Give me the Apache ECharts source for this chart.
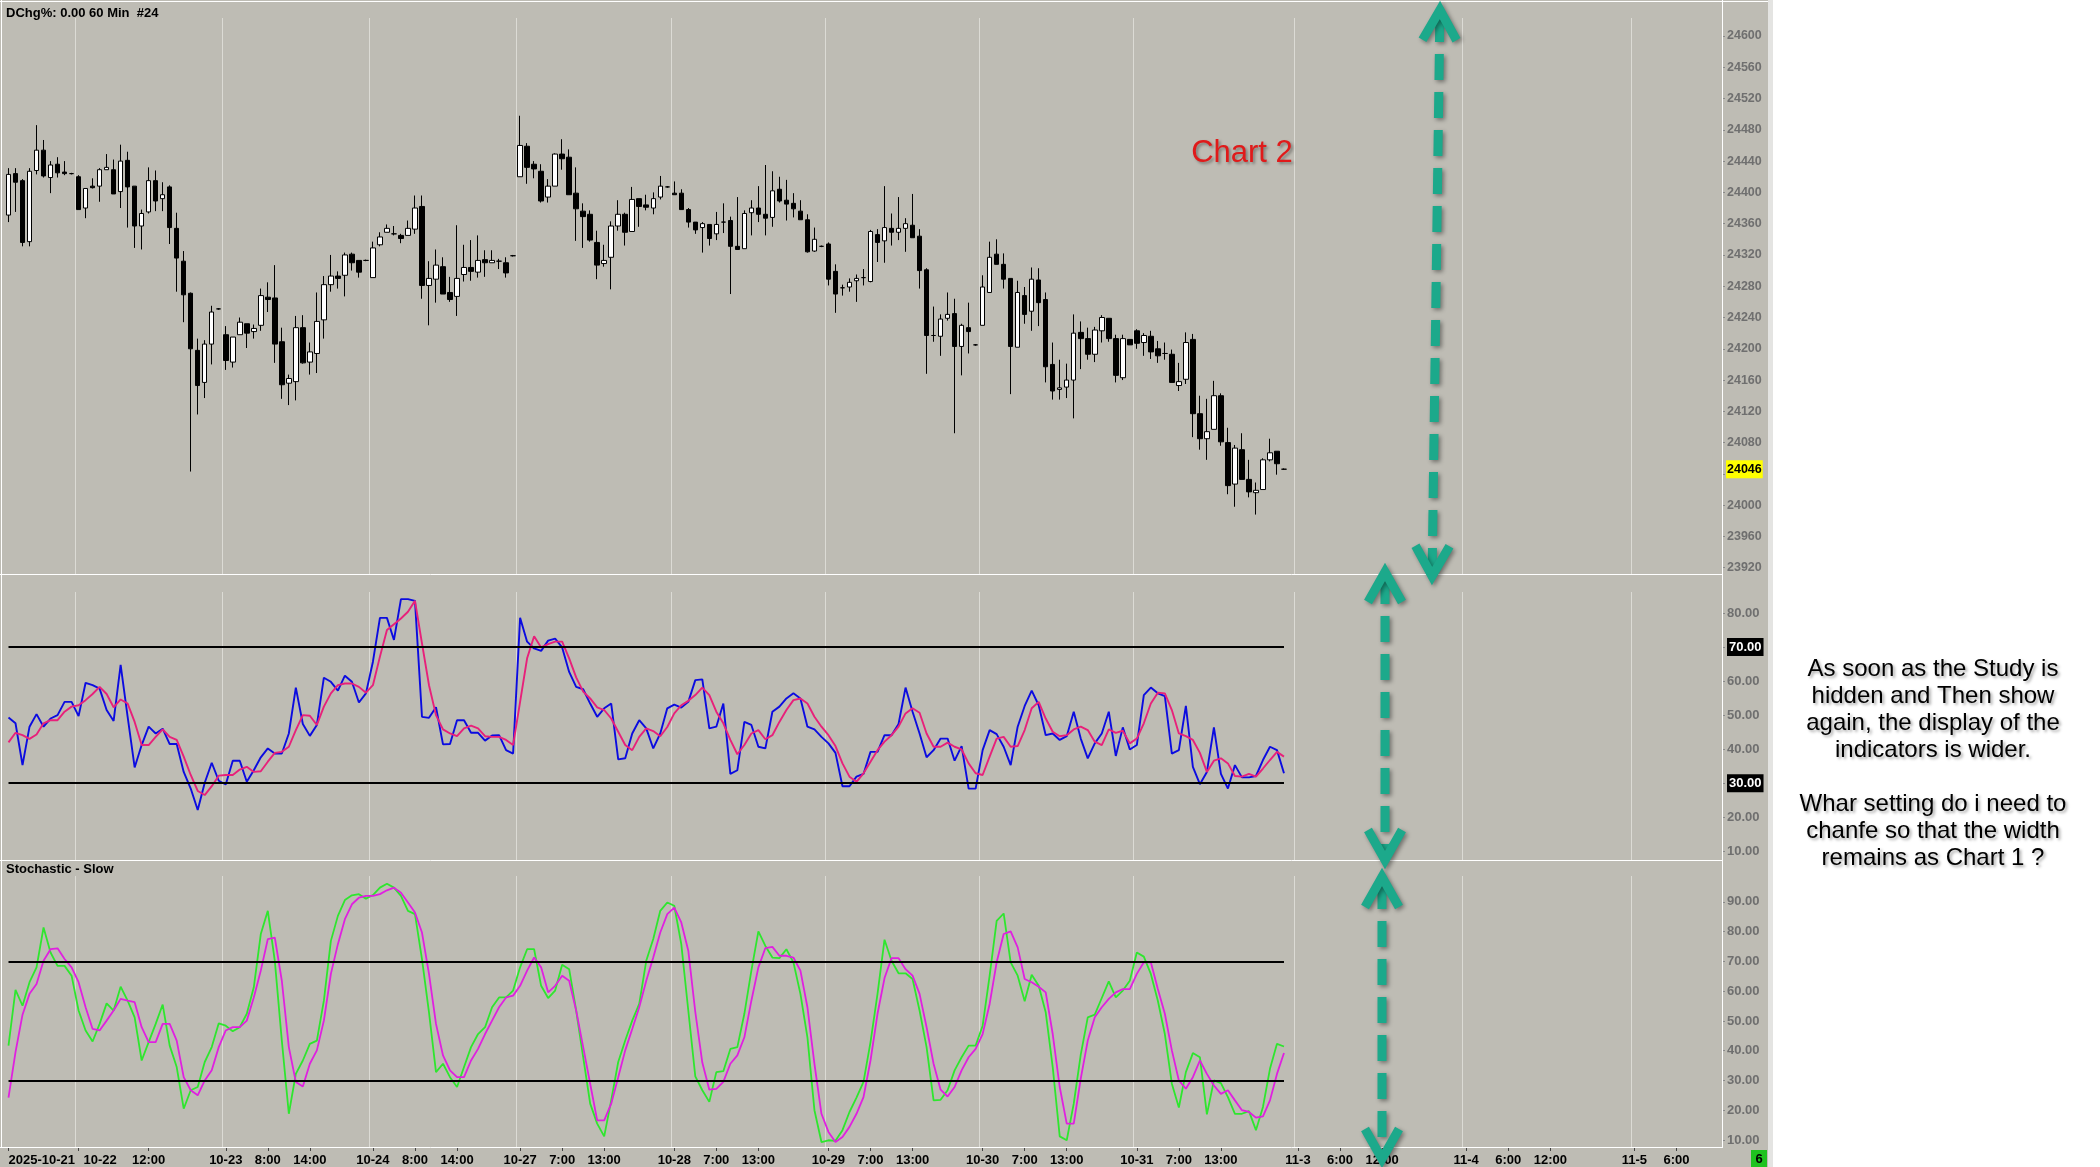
<!DOCTYPE html>
<html>
<head>
<meta charset="utf-8">
<title>Chart 2</title>
<script src="https://cdn.jsdelivr.net/npm/echarts@6/dist/echarts.min.js"></script>
<style>
  html, body { margin: 0; padding: 0; background: #fff; }
  #chart { width: 2100px; height: 1167px; }
</style>
</head>
<body>
<div id="chart"></div>
<script>
// sessions: [day, first hour, last hour] -- hourly slots on the time axis
const sessions = [
  ['10-21', 13, 22], ['10-22', 2, 22], ['10-23', 2, 22], ['10-24', 2, 22],
  ['10-27', 1, 22], ['10-28', 1, 22], ['10-29', 1, 22], ['10-30', 1, 22], ['10-31', 1, 23],
  ['11-3', 0, 23], ['11-4', 0, 23], ['11-5', 0, 12]
]
// hour labels shown under each day
const labelHours = {
  '10-22': [12], '10-23': [8, 14], '10-24': [8, 14],
  '10-27': [7, 13], '10-28': [7, 13], '10-29': [7, 13], '10-30': [7, 13], '10-31': [7, 13],
  '11-3': [6, 12], '11-4': [6, 12], '11-5': [6]
}

const opens = [
  24371, 24424, 24415, 24337, 24428, 24454, 24419, 24436, 24426, 24424,
  24420, 24380, 24408, 24408, 24429, 24429, 24401, 24441, 24408, 24357,
  24375, 24415, 24392, 24407, 24354, 24312, 24271, 24198, 24157, 24206,
  24251, 24218, 24183, 24218, 24232, 24222, 24230, 24266, 24265, 24209,
  24156, 24158, 24227, 24183, 24194, 24237, 24282, 24293, 24294, 24321,
  24313, 24313, 24291, 24333, 24349, 24347, 24345, 24345, 24353, 24382,
  24281, 24289, 24305, 24272, 24267, 24295, 24304, 24298, 24314, 24310,
  24312, 24310, 24319, 24420, 24459, 24436, 24427, 24394, 24408, 24449,
  24445, 24399, 24376, 24372, 24336, 24309, 24317, 24357, 24372, 24350,
  24392, 24384, 24380, 24394, 24407, 24399, 24399, 24378, 24362, 24355,
  24359, 24347, 24362, 24364, 24331, 24328, 24374, 24380, 24372, 24368,
  24404, 24390, 24386, 24376, 24365, 24325, 24331, 24334, 24299, 24278,
  24279, 24287, 24291, 24286, 24346, 24338, 24354, 24349, 24354, 24358,
  24344, 24301, 24217, 24216, 24239, 24245, 24203, 24227, 24205, 24230,
  24272, 24321, 24308, 24290, 24202, 24268, 24248, 24288, 24263, 24180,
  24148, 24151, 24160, 24221, 24213, 24193, 24223, 24239, 24213, 24163,
  24212, 24223, 24208, 24216, 24200, 24194, 24193, 24153, 24161, 24212,
  24117, 24085, 24097, 24140, 24080, 24027, 24071, 24033, 24016, 24020,
  24058, 24069, 24046
]
const closes = [
  24423, 24413, 24336, 24427, 24454, 24421, 24435, 24425, 24424, 24424,
  24378, 24405, 24406, 24429, 24432, 24398, 24440, 24407, 24357, 24373,
  24415, 24389, 24397, 24355, 24316, 24269, 24200, 24153, 24206, 24247,
  24251, 24185, 24215, 24234, 24220, 24226, 24268, 24263, 24206, 24154,
  24162, 24227, 24182, 24196, 24235, 24282, 24293, 24290, 24320, 24310,
  24298, 24313, 24329, 24343, 24354, 24347, 24341, 24354, 24380, 24281,
  24290, 24307, 24270, 24263, 24290, 24304, 24299, 24313, 24310, 24313,
  24312, 24297, 24319, 24460, 24432, 24430, 24389, 24408, 24449, 24443,
  24397, 24379, 24369, 24339, 24307, 24313, 24357, 24372, 24349, 24391,
  24382, 24381, 24392, 24408, 24407, 24397, 24378, 24362, 24352, 24360,
  24341, 24359, 24362, 24331, 24327, 24373, 24380, 24372, 24367, 24402,
  24389, 24385, 24379, 24365, 24324, 24340, 24331, 24289, 24270, 24278,
  24285, 24290, 24291, 24350, 24336, 24355, 24349, 24354, 24360, 24342,
  24300, 24217, 24217, 24238, 24244, 24203, 24230, 24222, 24205, 24279,
  24317, 24308, 24289, 24203, 24272, 24244, 24289, 24259, 24177, 24146,
  24150, 24160, 24220, 24213, 24193, 24224, 24240, 24213, 24166, 24213,
  24205, 24207, 24217, 24196, 24191, 24194, 24157, 24158, 24208, 24117,
  24085, 24094, 24140, 24081, 24025, 24073, 24033, 24017, 24019, 24058,
  24067, 24053, 24046
]
const lows = [
  24362, 24375, 24331, 24331, 24423, 24419, 24399, 24419, 24422, 24423,
  24378, 24367, 24405, 24388, 24429, 24398, 24380, 24355, 24329, 24327,
  24373, 24376, 24376, 24334, 24273, 24234, 24043, 24116, 24137, 24180,
  24250, 24173, 24176, 24218, 24201, 24213, 24223, 24247, 24182, 24136,
  24128, 24134, 24181, 24167, 24169, 24213, 24273, 24277, 24267, 24300,
  24291, 24312, 24291, 24331, 24349, 24345, 24335, 24345, 24347, 24264,
  24230, 24259, 24270, 24260, 24242, 24286, 24287, 24291, 24292, 24310,
  24302, 24291, 24318, 24420, 24411, 24418, 24387, 24387, 24408, 24429,
  24397, 24338, 24329, 24337, 24289, 24305, 24276, 24351, 24332, 24350,
  24356, 24377, 24372, 24391, 24406, 24397, 24378, 24355, 24347, 24323,
  24332, 24339, 24348, 24270, 24327, 24328, 24345, 24362, 24345, 24356,
  24387, 24364, 24368, 24365, 24323, 24324, 24330, 24281, 24246, 24268,
  24273, 24260, 24281, 24285, 24311, 24310, 24332, 24339, 24324, 24342,
  24277, 24168, 24209, 24191, 24236, 24092, 24166, 24194, 24204, 24230,
  24272, 24308, 24277, 24142, 24202, 24232, 24223, 24229, 24157, 24135,
  24135, 24137, 24111, 24174, 24186, 24183, 24208, 24209, 24157, 24160,
  24205, 24200, 24191, 24187, 24182, 24186, 24157, 24146, 24155, 24087,
  24071, 24058, 24097, 24076, 24014, 23998, 24033, 24010, 23988, 24020,
  24056, 24039, 24045
]
const highs = [
  24431, 24431, 24417, 24431, 24486, 24467, 24440, 24445, 24440, 24425,
  24422, 24405, 24418, 24431, 24449, 24442, 24461, 24452, 24408, 24378,
  24432, 24428, 24413, 24409, 24374, 24325, 24272, 24213, 24211, 24255,
  24252, 24229, 24215, 24240, 24232, 24231, 24277, 24285, 24307, 24227,
  24167, 24242, 24243, 24208, 24272, 24293, 24320, 24299, 24323, 24323,
  24313, 24314, 24337, 24349, 24359, 24357, 24347, 24364, 24396, 24396,
  24312, 24327, 24317, 24292, 24358, 24333, 24339, 24345, 24326, 24326,
  24315, 24317, 24320, 24498, 24463, 24440, 24436, 24417, 24450, 24468,
  24455, 24432, 24386, 24377, 24351, 24333, 24363, 24390, 24374, 24407,
  24392, 24397, 24400, 24421, 24408, 24414, 24404, 24380, 24362, 24362,
  24359, 24375, 24386, 24369, 24394, 24377, 24390, 24408, 24435, 24427,
  24420, 24416, 24399, 24390, 24372, 24355, 24332, 24336, 24308, 24282,
  24290, 24295, 24302, 24352, 24353, 24408, 24373, 24394, 24367, 24398,
  24353, 24303, 24254, 24244, 24272, 24264, 24232, 24259, 24206, 24294,
  24337, 24340, 24322, 24290, 24287, 24279, 24304, 24303, 24272, 24208,
  24186, 24181, 24244, 24235, 24227, 24228, 24243, 24239, 24218, 24218,
  24212, 24225, 24220, 24223, 24210, 24208, 24199, 24182, 24221, 24219,
  24140, 24136, 24159, 24143, 24099, 24077, 24092, 24058, 24029, 24060,
  24085, 24069, 24047
]

// upper study (blue) and its average (pink)
const rsi = [
  49.3, 47.6, 35.3, 46.6, 50.3, 46.6, 49.0, 50.0, 53.9, 53.9,
  49.7, 59.5, 58.8, 57.8, 51.5, 48.3, 64.8, 49.5, 34.6, 41.2,
  46.6, 44.6, 46.0, 41.5, 41.5, 33.3, 28.4, 22.1, 30.1, 36.0,
  30.7, 29.6, 36.6, 36.6, 30.4, 33.8, 37.6, 40.2, 38.7, 38.7,
  44.6, 58.1, 47.4, 43.9, 47.1, 61.0, 59.8, 57.2, 61.6, 59.8,
  53.7, 56.4, 65.7, 78.6, 78.6, 72.1, 84.1, 84.1, 83.6, 49.5,
  49.2, 52.3, 41.4, 41.5, 48.5, 48.5, 44.8, 44.8, 42.5, 44.0,
  44.1, 39.7, 38.7, 78.6, 71.6, 69.6, 68.9, 71.9, 72.5, 69.9,
  62.7, 58.3, 57.6, 53.4, 49.5, 52.0, 53.4, 37.0, 37.3, 44.6,
  48.5, 46.1, 40.2, 44.6, 52.0, 53.1, 52.2, 53.9, 60.3, 60.5,
  46.1, 46.6, 53.4, 32.7, 33.8, 48.0, 47.1, 40.7, 40.2, 51.0,
  52.5, 54.9, 56.4, 54.9, 46.6, 45.8, 43.6, 41.7, 38.9, 29.1,
  29.1, 31.9, 32.7, 39.2, 39.2, 44.1, 44.1, 47.4, 58.1, 51.0,
  44.6, 37.6, 39.7, 43.1, 43.1, 36.6, 40.9, 28.4, 28.4, 39.7,
  45.6, 44.4, 40.7, 35.3, 46.6, 52.7, 57.2, 52.9, 44.1, 44.6,
  42.7, 43.8, 51.0, 43.1, 37.3, 41.7, 44.6, 51.0, 38.0, 46.4,
  39.9, 41.2, 55.9, 58.1, 56.4, 55.6, 38.7, 39.7, 52.7, 34.8,
  29.7, 33.3, 46.4, 32.7, 28.4, 35.3, 31.7, 31.7, 32.1, 36.8,
  40.7, 39.7, 32.9
]
const rsiAvg = [
  42.0, 44.8, 44.1, 43.0, 44.3, 47.6, 48.5, 48.5, 51.0, 52.5,
  52.9, 54.4, 56.2, 58.3, 56.2, 52.3, 54.6, 53.4, 48.0, 41.2,
  41.2, 43.6, 45.8, 43.6, 42.7, 37.8, 32.4, 27.7, 26.5, 29.1,
  32.2, 32.4, 32.4, 34.0, 34.8, 33.3, 33.5, 36.3, 38.9, 39.2,
  40.7, 45.6, 50.0, 49.8, 47.1, 52.5, 56.4, 58.8, 59.3, 59.3,
  58.3, 56.6, 58.8, 67.2, 75.0, 76.7, 78.4, 80.4, 83.6, 71.1,
  58.8, 50.0, 45.8, 44.6, 43.8, 46.1, 46.9, 46.1, 43.8, 43.6,
  43.6, 42.7, 41.2, 53.9, 66.7, 73.2, 69.9, 70.9, 71.6, 71.6,
  66.7, 61.1, 56.9, 54.9, 52.3, 51.5, 49.0, 45.1, 41.2, 39.7,
  43.6, 46.1, 45.3, 43.8, 46.5, 50.5, 52.9, 54.2, 55.9, 58.1,
  55.9, 51.0, 47.6, 42.7, 38.5, 41.2, 44.6, 45.6, 42.9, 44.1,
  48.0, 51.5, 54.4, 54.9, 53.4, 49.5, 46.6, 44.1, 40.9, 35.8,
  31.9, 30.4, 32.9, 36.3, 39.7, 42.2, 44.1, 46.6, 50.5, 52.0,
  50.7, 44.6, 40.7, 40.7, 41.9, 40.7, 39.9, 35.8, 32.9, 32.4,
  37.8, 43.1, 43.6, 40.7, 40.9, 45.6, 52.0, 53.9, 49.0, 45.1,
  43.8, 44.1, 45.8, 46.6, 45.6, 42.2, 41.2, 45.8, 44.8, 45.4,
  41.7, 43.1, 47.6, 53.4, 56.6, 56.4, 51.5, 44.6, 43.8, 42.7,
  38.9, 33.3, 36.6, 37.3, 35.8, 32.1, 31.9, 32.7, 31.9, 34.3,
  36.8, 39.2, 37.8
]
const stochK = [
  41.7, 60.4, 55.1, 63.0, 68.0, 81.4, 73.0, 68.5, 68.5, 65.2,
  53.5, 46.8, 43.1, 49.0, 55.9, 53.5, 61.5, 56.8, 51.2, 36.7,
  42.9, 49.0, 55.5, 41.7, 34.5, 20.5, 26.7, 27.8, 36.2, 41.2,
  49.2, 48.4, 46.5, 47.9, 52.4, 61.3, 79.2, 87.0, 70.2, 43.4,
  18.8, 32.2, 36.7, 42.3, 43.4, 56.8, 76.9, 85.3, 90.6, 92.2,
  92.6, 91.1, 92.3, 94.8, 96.1, 94.8, 92.0, 87.0, 85.9, 70.8,
  52.9, 32.8, 35.6, 31.1, 27.8, 34.5, 41.2, 45.6, 47.9, 54.6,
  57.9, 57.9, 60.2, 68.0, 74.1, 74.1, 61.8, 57.7, 60.2, 68.9,
  67.4, 53.5, 37.8, 22.2, 15.5, 11.2, 23.3, 36.2, 43.4, 50.1,
  55.7, 70.2, 77.5, 87.0, 89.8, 88.7, 75.8, 53.5, 31.4, 26.7,
  22.8, 32.8, 33.1, 40.6, 41.2, 52.4, 66.9, 80.1, 75.2, 71.3,
  71.1, 74.1, 69.7, 59.1, 44.5, 20.0, 9.3, 9.9, 9.7, 13.3,
  19.4, 24.2, 29.5, 42.9, 59.1, 77.3, 70.2, 66.0, 66.0, 64.1,
  53.5, 41.2, 23.3, 23.5, 26.7, 33.4, 37.8, 41.7, 41.7, 48.4,
  65.2, 83.6, 86.1, 69.7, 65.2, 56.6, 65.5, 61.8, 52.9, 34.5,
  11.2, 9.9, 22.2, 38.7, 51.2, 52.1, 57.7, 63.3, 57.9, 60.2,
  63.5, 73.0, 71.6, 65.8, 56.8, 45.6, 28.9, 20.9, 32.8, 39.2,
  37.8, 18.6, 30.0, 29.1, 24.4, 18.8, 18.8, 19.7, 13.3, 21.1,
  33.9, 42.3, 41.4
]
const stochD = [
  24.2, 39.5, 52.1, 59.1, 62.4, 70.2, 74.1, 74.4, 70.8, 68.0,
  63.0, 54.6, 47.3, 46.8, 50.1, 53.5, 57.4, 56.8, 56.3, 47.9,
  42.9, 42.9, 49.0, 49.0, 43.4, 31.1, 26.7, 25.0, 30.0, 33.4,
  41.2, 46.8, 47.9, 47.9, 50.1, 57.9, 66.9, 77.5, 78.0, 63.5,
  41.2, 29.5, 28.0, 35.6, 40.1, 50.1, 65.8, 75.8, 84.2, 89.2,
  91.4, 92.0, 92.0, 92.6, 93.9, 94.8, 93.1, 89.8, 86.4, 79.7,
  65.8, 49.0, 38.4, 33.4, 31.1, 31.1, 36.7, 40.6, 45.6, 50.1,
  54.6, 57.9, 58.5, 61.8, 66.9, 71.3, 68.0, 59.6, 61.8, 65.2,
  63.5, 53.5, 41.2, 28.9, 16.6, 16.6, 22.2, 31.1, 40.1, 47.3,
  54.6, 63.5, 71.3, 79.7, 85.9, 88.1, 83.1, 73.6, 53.0, 36.0,
  26.9, 27.2, 29.5, 35.6, 38.4, 44.5, 56.8, 68.0, 74.5, 74.9,
  71.9, 71.9, 71.3, 66.9, 54.6, 35.6, 18.8, 12.7, 9.3, 11.0,
  14.4, 18.8, 24.4, 36.7, 52.4, 64.4, 71.1, 71.1, 67.4, 65.2,
  59.1, 47.9, 35.6, 26.9, 24.6, 27.8, 33.4, 37.8, 40.6, 45.6,
  55.7, 69.7, 79.2, 80.1, 74.7, 64.1, 63.0, 61.5, 59.6, 45.6,
  27.8, 15.5, 15.5, 30.6, 43.4, 51.2, 54.6, 57.4, 59.6, 60.7,
  60.7, 65.8, 69.7, 69.7, 60.7, 52.4, 40.1, 30.0, 27.2, 31.1,
  36.7, 32.2, 28.3, 25.5, 26.7, 23.3, 20.0, 19.4, 17.5, 17.9,
  23.3, 32.2, 39.2
]

const priceTicks = [23920, 23960, 24000, 24040, 24080, 24120, 24160, 24200, 24240,
  24280, 24320, 24360, 24400, 24440, 24480, 24520, 24560, 24600]
const rsiTicks = [10, 20, 30, 40, 50, 60, 70, 80]
const stochTicks = [10, 20, 30, 40, 50, 60, 70, 80, 90]
const levels = [70, 30]

const ARIAL = '"Liberation Sans", Arial, sans-serif'
const BG = '#bebcb4'
const TEAL = '#1ca98b'

// build the hourly category axis
const cats = []
const labelText = {}
const dayStarts = new Set()
sessions.forEach(([day, h0, h1], k) => {
  for (let h = h0; h <= h1; h++) {
    const idx = cats.length
    if (h === h0) {
      dayStarts.add(idx)
      labelText[idx] = k === 0 ? '2025-' + day : day
    } else if ((labelHours[day] || []).includes(h)) {
      labelText[idx] = h + ':00'
    }
    cats.push(day + ' ' + h + ':00')
  }
})
const catData = cats.map((c, i) => {
  if (i === 0) return { value: c, textStyle: { align: 'left' } }
  if (i === 10) return { value: c, textStyle: { align: 'left', padding: [0, 0, 0, 5] } }
  return c
})
const lastBar = closes.length - 1
const candles = opens.map((o, i) => [o, closes[i], lows[i], highs[i]])

const levelLine = {
  symbol: 'none', silent: true, animation: false,
  label: { show: false },
  lineStyle: { color: '#000', width: 2, type: 'solid' },
  data: levels.map(v => [{ coord: [cats[0], v] }, { coord: [cats[lastBar], v] }])
}

const splitLine = {
  show: true,
  interval: (idx) => idx > 0 && dayStarts.has(idx),
  lineStyle: { color: '#dcdbd5', width: 1 }
}
function xAxisFor (gridIndex, withLabels) {
  return {
    type: 'category', gridIndex, data: catData, boundaryGap: true,
    axisLine: { show: false },
    axisTick: withLabels
      ? { show: true, alignWithLabel: true, length: 3, interval: (i) => i in labelText, lineStyle: { color: '#444' } }
      : { show: false },
    axisLabel: withLabels
      ? {
          show: true, interval: (i) => i in labelText, showMinLabel: true, hideOverlap: false,
          formatter: (v, i) => labelText[i] || '',
          color: '#000', fontFamily: ARIAL, fontWeight: 'bold', fontSize: 13, margin: 6
        }
      : { show: false },
    splitLine
  }
}
function indicatorAxis (gridIndex, min, max, ticks, highlight) {
  return {
    type: 'value', gridIndex, position: 'right', min, max,
    splitLine: { show: false },
    axisLine: { show: false },
    axisTick: { show: true, customValues: ticks, length: 3, lineStyle: { color: '#8a8a8a' } },
    axisLabel: {
      customValues: ticks, margin: 5,
      color: '#6f6f6f', fontFamily: ARIAL, fontWeight: 'bold', fontSize: 13,
      formatter: (v) => highlight.includes(v) ? '{hl|' + v.toFixed(2) + '}' : v.toFixed(2),
      rich: {
        hl: { backgroundColor: '#000', color: '#fff', fontFamily: ARIAL, fontWeight: 'bold', fontSize: 13, padding: [3, 2, 2, 2] }
      }
    }
  }
}

function arrow (x1, y1, x2, y2) {
  const len = Math.hypot(x2 - x1, y2 - y1)
  const ux = (x2 - x1) / len
  const uy = (y2 - y1) / len
  const px = -uy
  const py = ux
  const style = {
    stroke: TEAL, lineWidth: 9,
    shadowBlur: 4, shadowColor: 'rgba(0,0,0,0.4)', shadowOffsetX: 2, shadowOffsetY: 2
  }
  const head = (tx, ty, dx, dy) => {
    const bx = tx - dx * 30
    const by = ty - dy * 30
    return [[bx + px * 17, by + py * 17], [tx, ty], [bx - px * 17, by - py * 17]]
  }
  return [
    { type: 'line', z: 60, shape: { x1: x1 + ux * 10, y1: y1 + uy * 10, x2: x2 - ux * 10, y2: y2 - uy * 10 },
      style: Object.assign({}, style, { lineDash: [26, 12], lineCap: 'butt' }) },
    { type: 'polyline', z: 61, shape: { points: head(x1 + ux * 4, y1 + uy * 4, -ux, -uy) },
      style: Object.assign({}, style, { fill: 'none', lineJoin: 'miter' }) },
    { type: 'polyline', z: 61, shape: { points: head(x2 - ux * 4, y2 - uy * 4, ux, uy) },
      style: Object.assign({}, style, { fill: 'none', lineJoin: 'miter' }) }
  ]
}

const note = [
  'As soon as the Study is', 'hidden and Then show', 'again, the display of the',
  'indicators is wider.', '', 'Whar setting do i need to', 'chanfe so that the width',
  'remains as Chart 1 ?'
].join('\n')

const white = { stroke: '#ffffff', lineWidth: 1 }
const chart = echarts.init(document.getElementById('chart'))
chart.setOption({
  animation: false,
  backgroundColor: BG,
  grid: [
    { left: 5, top: 18, width: 1717, height: 556 },
    { left: 5, top: 592, width: 1717, height: 268 },
    { left: 5, top: 876, width: 1717, height: 272 }
  ],
  xAxis: [xAxisFor(0, false), xAxisFor(1, false), xAxisFor(2, true)],
  yAxis: [
    {
      type: 'value', gridIndex: 0, position: 'right', min: 23912, max: 24623,
      splitLine: { show: false },
      axisLine: { show: false },
      axisTick: { show: true, customValues: priceTicks, length: 3, lineStyle: { color: '#8a8a8a' } },
      axisLabel: {
        customValues: priceTicks, margin: 5, formatter: (v) => String(v),
        color: '#6f6f6f', fontFamily: ARIAL, fontWeight: 'bold', fontSize: 12.5
      }
    },
    indicatorAxis(1, 7.4, 86.2, rsiTicks, levels),
    indicatorAxis(2, 7.3, 98.7, stochTicks, [])
  ],
  series: [
    {
      type: 'candlestick', xAxisIndex: 0, yAxisIndex: 0, data: candles,
      barWidth: 5,
      itemStyle: {
        color: '#ffffff', color0: '#000000',
        borderColor: '#000000', borderColor0: '#000000', borderColorDoji: '#000000',
        borderWidth: 1
      },
      markLine: {
        symbol: 'none', silent: true, animation: false, z: 5,
        lineStyle: { color: 'rgba(0,0,0,0)', width: 0 },
        data: [{ yAxis: closes[lastBar] }],
        label: {
          show: true, position: 'end', distance: 4,
          formatter: String(closes[lastBar]),
          backgroundColor: '#ffff00', color: '#000',
          fontFamily: ARIAL, fontWeight: 'bold', fontSize: 12.5, padding: [3, 1, 2, 1]
        }
      }
    },
    {
      type: 'line', xAxisIndex: 1, yAxisIndex: 1, data: rsi, symbol: 'none',
      lineStyle: { color: '#0b0be0', width: 1.9 }, z: 3,
      markLine: levelLine
    },
    {
      type: 'line', xAxisIndex: 1, yAxisIndex: 1, data: rsiAvg, symbol: 'none',
      lineStyle: { color: '#e8207a', width: 1.9 }, z: 4
    },
    {
      type: 'line', xAxisIndex: 2, yAxisIndex: 2, data: stochK, symbol: 'none',
      lineStyle: { color: '#2ee62e', width: 1.8 }, z: 3,
      markLine: levelLine
    },
    {
      type: 'line', xAxisIndex: 2, yAxisIndex: 2, data: stochD, symbol: 'none',
      lineStyle: { color: '#e020e0', width: 1.8 }, z: 4
    }
  ],
  graphic: [
    { type: 'rect', z: 0, shape: { x: 1768, y: 0, width: 5, height: 1167 }, style: { fill: '#e4e4e2' } },
    { type: 'rect', z: 0, shape: { x: 1773, y: 0, width: 327, height: 1167 }, style: { fill: '#ffffff' } },
    { type: 'line', z: 1, shape: { x1: 0, y1: 1.5, x2: 1768, y2: 1.5 }, style: white },
    { type: 'line', z: 1, shape: { x1: 1.5, y1: 0, x2: 1.5, y2: 1148 }, style: white },
    { type: 'line', z: 1, shape: { x1: 0, y1: 574.5, x2: 1722, y2: 574.5 }, style: white },
    { type: 'line', z: 1, shape: { x1: 0, y1: 860.5, x2: 1722, y2: 860.5 }, style: white },
    { type: 'line', z: 1, shape: { x1: 0, y1: 1147.5, x2: 1722, y2: 1147.5 }, style: white },
    { type: 'line', z: 1, shape: { x1: 1722.5, y1: 0, x2: 1722.5, y2: 1148 }, style: white },
    {
      type: 'text', z: 10, x: 6, y: 13,
      style: { text: 'DChg%: 0.00 60 Min  #24', fill: '#000', font: 'bold 13px ' + ARIAL, verticalAlign: 'middle' }
    },
    {
      type: 'text', z: 10, x: 6, y: 869,
      style: { text: 'Stochastic - Slow', fill: '#000', font: 'bold 13px ' + ARIAL, verticalAlign: 'middle' }
    },
    {
      type: 'text', z: 10, x: 1242, y: 153,
      style: {
        text: 'Chart 2', fill: '#e01a1a', font: '31px ' + ARIAL, align: 'center', verticalAlign: 'middle',
        textShadowColor: 'rgba(0,0,0,0.35)', textShadowBlur: 3, textShadowOffsetX: 2, textShadowOffsetY: 2
      }
    },
    {
      type: 'text', z: 10, x: 1933, y: 656,
      style: {
        text: note, fill: '#000', font: '24px ' + ARIAL, align: 'center', verticalAlign: 'top', lineHeight: 27,
        textShadowColor: 'rgba(0,0,0,0.35)', textShadowBlur: 3, textShadowOffsetX: 2, textShadowOffsetY: 2
      }
    },
    { type: 'rect', z: 10, shape: { x: 1751, y: 1150, width: 16, height: 17 }, style: { fill: '#1fc21f' } },
    {
      type: 'text', z: 11, x: 1759, y: 1159,
      style: { text: '6', fill: '#000', font: 'bold 13px ' + ARIAL, align: 'center', verticalAlign: 'middle' }
    },
    ...arrow(1440, 6, 1432, 580),
    ...arrow(1385, 568, 1385, 864),
    ...arrow(1382, 873, 1382, 1163)
  ]
})
</script>
</body>
</html>
